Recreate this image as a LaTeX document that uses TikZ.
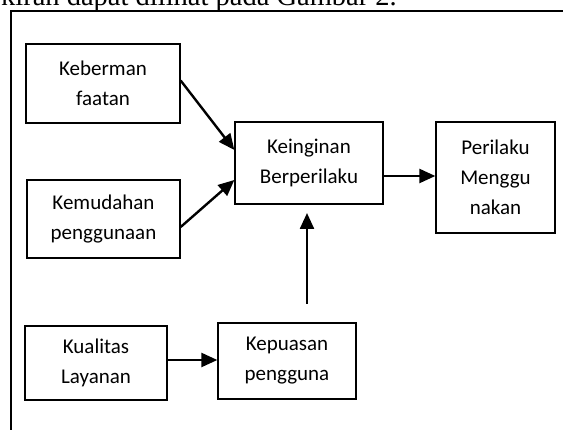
\documentclass[tikz,border=0pt]{standalone}
\usepackage{fontspec}
\usepackage{tikz}
\usetikzlibrary{arrows.meta}
\newfontfamily\boxfont{Carlito}
\newfontfamily\bodyfont{Liberation Serif}

\begin{document}
\begin{tikzpicture}[x=1pt,y=1pt]
\tikzstyle{every node}+=[inner sep=0pt]
\tikzstyle{var}=[draw=black, line width=1.3pt, rectangle, align=center, font=\boxfont\fontsize{21}{30}\selectfont]
\tikzstyle{arr}=[black, line width=2.4pt, -{Triangle[length=16pt,width=14pt]}]
\useasboundingbox (0,0) rectangle (563,-430);
\clip (0,0) rectangle (563,-430);
\draw [white] (0,0) rectangle (563,-430);
\node [anchor=base east, font=\bodyfont\fontsize{28.5}{34}\selectfont] (cap) at (397,-6) {kiran dapat dilihat pada Gambar 2.};
\draw [black, line width=1.6pt] (11,-440) -- (11,-11) -- (575,-11);
\node [var, minimum width=154pt, minimum height=79pt] (manfaat) at (103,-83.5) {Keberman\\faatan};
\node [var, minimum width=153pt, minimum height=78pt] (mudah) at (103.5,-219) {Kemudahan\\penggunaan};
\node [var, minimum width=148pt, minimum height=82pt] (niat) at (309,-163) {Keinginan\\Berperilaku};
\node [var, minimum width=119pt, minimum height=111pt] (guna) at (495.5,-177.5) {Perilaku\\Menggu\\nakan};
\node [var, minimum width=142pt, minimum height=74pt] (mutu) at (96,-363) {Kualitas\\Layanan};
\node [var, minimum width=138pt, minimum height=76pt] (puas) at (287,-361) {Kepuasan\\pengguna};
\coordinate (niat-out) at ([yshift=-13pt]niat.east);
\coordinate (mutu-out) at ([yshift=3pt]mutu.east);
\coordinate (puas-up) at (307,-304);
\coordinate (niat-in) at (307,-213);
\draw [arr] ([yshift=3pt]manfaat.east) -- ([yshift=13pt]niat.west);
\draw [arr] ([yshift=-8pt]mudah.east) -- ([yshift=-17pt]niat.west);
\draw [arr] (niat-out) -- (niat-out -| guna.west);
\draw [arr] (mutu-out) -- (mutu-out -| puas.west);
\draw [arr] (puas-up) -- (niat-in);
\end{tikzpicture}
\end{document}
